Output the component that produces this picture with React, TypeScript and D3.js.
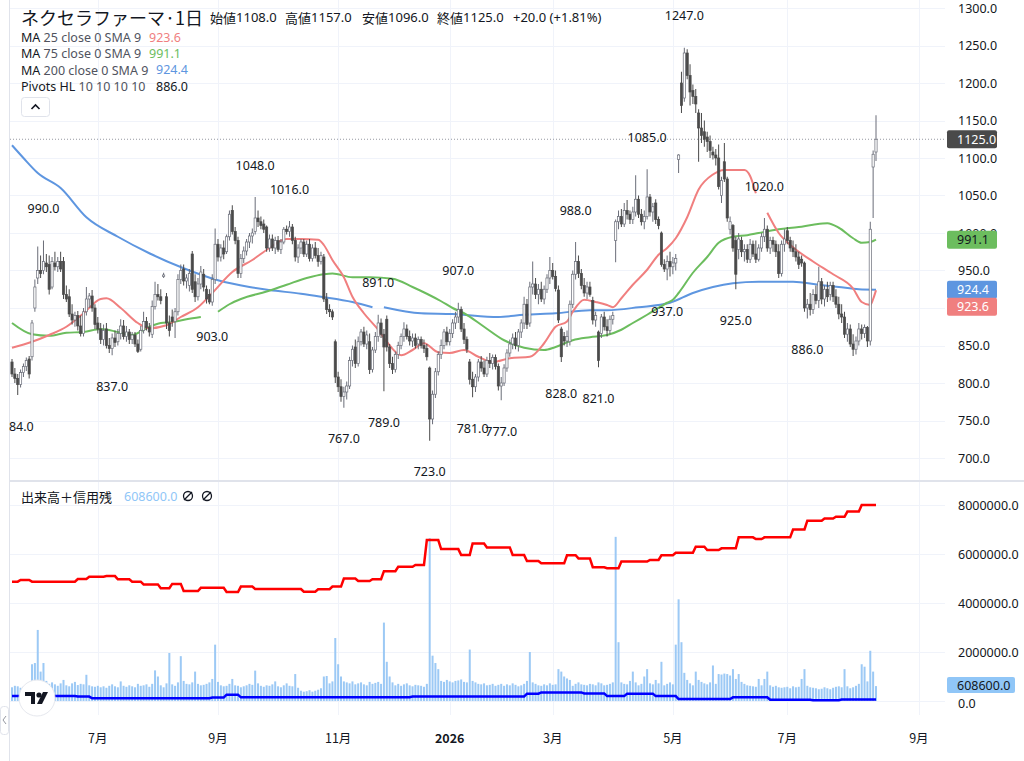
import * as d3 from 'd3'
import { useEffect, useRef } from 'react'

const W = 1024
const H = 761
const FONT = "'Noto Sans', 'Noto Sans CJK JP', sans-serif"
const CJK = "'Noto Sans CJK JP', 'Noto Sans', sans-serif"

// daily candles [open, high, low, close]
const ohlc = [
  [828, 832, 808, 812], [812, 820, 800, 806], [806, 812, 784, 798], [798, 818, 794, 814], [814, 826, 808, 822],
  [822, 834, 816, 830], [832, 836, 806, 812], [835, 884, 830, 880], [900, 938, 895, 928], [940, 982, 932, 950],
  [950, 970, 940, 946], [950, 990, 945, 962], [960, 972, 948, 955], [958, 970, 918, 925], [928, 968, 925, 962],
  [960, 975, 950, 955], [955, 968, 948, 962], [962, 975, 948, 952], [962, 968, 912, 918], [918, 930, 908, 912],
  [915, 925, 888, 892], [892, 905, 878, 884], [884, 895, 875, 890], [890, 896, 870, 876], [876, 890, 862, 866],
  [866, 900, 862, 895], [895, 928, 890, 912], [912, 920, 900, 916], [916, 924, 895, 900], [900, 905, 872, 878],
  [880, 888, 866, 872], [872, 880, 852, 858], [858, 878, 850, 870], [872, 880, 846, 850], [850, 860, 840, 846],
  [846, 866, 837, 860], [860, 870, 848, 854], [855, 872, 850, 866], [866, 885, 858, 876], [876, 884, 858, 862],
  [862, 876, 855, 868], [868, 872, 852, 858], [858, 868, 852, 864], [864, 868, 848, 852], [852, 858, 840, 842],
  [845, 876, 842, 870], [870, 895, 866, 882], [882, 888, 870, 874], [874, 880, 862, 868], [865, 910, 860, 902],
  [902, 935, 898, 918], [918, 932, 910, 915], [915, 925, 905, 910], [942, 947, 940, 944], [915, 920, 872, 880],
  [880, 890, 862, 870], [888, 898, 875, 882], [882, 900, 860, 895], [895, 945, 890, 938], [938, 958, 932, 950],
  [952, 958, 930, 936], [936, 945, 926, 940], [930, 952, 922, 946], [972, 976, 920, 925], [935, 945, 908, 915],
  [915, 940, 910, 932], [932, 956, 925, 948], [945, 952, 922, 928], [925, 930, 906, 912], [918, 925, 905, 908],
  [908, 945, 903, 938], [938, 1006, 932, 985], [985, 992, 962, 968], [968, 985, 962, 980], [980, 990, 965, 972],
  [975, 998, 972, 995], [995, 1030, 990, 1025], [1030, 1037, 998, 1002], [1002, 1008, 985, 990], [990, 995, 940, 946],
  [946, 972, 940, 966], [966, 982, 960, 976], [976, 992, 970, 988], [988, 1000, 980, 996], [996, 1006, 986, 1000],
  [1002, 1048, 998, 1020], [1020, 1030, 1008, 1015], [1015, 1022, 1005, 1010], [1012, 1018, 1000, 1005], [1008, 1010, 975, 980],
  [980, 998, 975, 992], [992, 998, 976, 980], [980, 995, 972, 990], [990, 996, 975, 978], [978, 992, 972, 988],
  [988, 1008, 985, 1005], [1005, 1010, 998, 1002], [1002, 1016, 995, 1008], [1008, 1012, 985, 990], [990, 995, 962, 968],
  [968, 985, 960, 980], [980, 992, 972, 988], [988, 992, 968, 972], [972, 990, 968, 985], [985, 992, 962, 966],
  [966, 985, 962, 980], [980, 988, 966, 970], [970, 980, 955, 962], [962, 975, 958, 970], [968, 972, 908, 912],
  [912, 920, 892, 898], [898, 905, 888, 895], [895, 898, 884, 888], [855, 858, 800, 808], [808, 815, 788, 795],
  [795, 805, 775, 782], [782, 795, 767, 788], [788, 802, 778, 796], [796, 835, 792, 830], [830, 850, 822, 845],
  [848, 858, 820, 826], [826, 862, 822, 855], [855, 872, 850, 868], [868, 875, 848, 852], [852, 870, 845, 864],
  [855, 866, 812, 818], [818, 848, 814, 844], [844, 868, 840, 862], [862, 891, 855, 880], [880, 886, 860, 865],
  [865, 872, 789, 848], [885, 890, 842, 848], [848, 852, 820, 826], [826, 835, 812, 818], [818, 842, 814, 838],
  [838, 855, 832, 850], [850, 866, 845, 862], [862, 881, 855, 872], [872, 878, 858, 862], [862, 870, 850, 856],
  [856, 866, 848, 860], [860, 866, 846, 850], [852, 862, 845, 858], [858, 862, 846, 850], [850, 858, 840, 846],
  [846, 852, 830, 835], [820, 822, 723, 752], [752, 790, 745, 785], [785, 820, 780, 815], [815, 842, 810, 838],
  [838, 858, 832, 850], [850, 872, 845, 868], [868, 875, 850, 855], [855, 872, 850, 866], [866, 885, 860, 880],
  [880, 895, 872, 888], [888, 907, 880, 898], [898, 902, 868, 872], [872, 880, 852, 858], [858, 862, 840, 845],
  [828, 832, 798, 805], [805, 815, 781, 795], [795, 812, 788, 808], [808, 832, 802, 828], [828, 836, 815, 820],
  [820, 830, 808, 812], [812, 835, 808, 830], [830, 840, 820, 826], [826, 838, 818, 834], [834, 838, 818, 822],
  [822, 826, 790, 796], [796, 808, 777, 800], [800, 825, 796, 820], [820, 845, 815, 840], [840, 858, 835, 852],
  [852, 866, 845, 860], [860, 868, 845, 850], [850, 872, 842, 868], [868, 885, 860, 880], [880, 915, 872, 905],
  [905, 912, 872, 878], [880, 935, 875, 928], [928, 962, 918, 932], [932, 940, 912, 918], [918, 932, 905, 925],
  [925, 935, 908, 912], [912, 930, 905, 925], [925, 945, 920, 940], [940, 968, 932, 950], [950, 960, 938, 942],
  [942, 950, 922, 926], [924, 930, 880, 884], [872, 875, 828, 835], [862, 868, 850, 856], [856, 870, 848, 862],
  [855, 910, 850, 905], [905, 950, 900, 945], [945, 988, 938, 962], [962, 970, 940, 946], [946, 952, 925, 930],
  [930, 940, 915, 920], [920, 935, 912, 928], [928, 935, 915, 918], [910, 915, 878, 884], [884, 895, 875, 890],
  [868, 870, 821, 830], [866, 892, 860, 888], [888, 895, 870, 875], [875, 885, 862, 870], [870, 890, 865, 885],
  [885, 895, 878, 890], [990, 1018, 961, 1015], [1015, 1030, 1005, 1022], [1022, 1032, 1008, 1012], [1012, 1040, 1008, 1030],
  [1030, 1044, 1018, 1025], [1025, 1030, 1012, 1018], [1018, 1035, 1012, 1028], [1028, 1077, 1022, 1045], [1045, 1050, 1020, 1025],
  [1025, 1032, 1010, 1015], [1015, 1030, 1005, 1022], [1022, 1085, 1018, 1048], [1048, 1052, 1022, 1028], [1028, 1040, 1015, 1035],
  [1040, 1045, 1012, 1018], [1018, 1022, 1005, 1010], [1000, 1002, 955, 958], [958, 965, 948, 952], [952, 970, 937, 962],
  [962, 975, 942, 955], [955, 968, 945, 960], [960, 972, 950, 966], [1098, 1105, 1080, 1104], [1200, 1215, 1160, 1170],
  [1180, 1247, 1175, 1240], [1240, 1245, 1205, 1210], [1210, 1225, 1170, 1188], [1190, 1198, 1172, 1182], [1182, 1192, 1160, 1172],
  [1160, 1165, 1095, 1140], [1140, 1160, 1120, 1130], [1135, 1150, 1115, 1125], [1128, 1135, 1108, 1122], [1122, 1130, 1100, 1110],
  [1108, 1115, 1098, 1104], [1104, 1112, 1090, 1100], [1100, 1118, 1058, 1062], [1050, 1075, 1040, 1070], [1095, 1120, 1068, 1072],
  [1072, 1075, 1015, 1020], [1005, 1022, 998, 1015], [1010, 1012, 975, 980], [990, 995, 925, 945], [978, 1000, 965, 992],
  [990, 995, 968, 975], [975, 985, 962, 978], [978, 985, 960, 965], [965, 992, 960, 985], [985, 990, 968, 972],
  [972, 990, 960, 965], [965, 985, 962, 980], [980, 1000, 975, 995], [995, 1020, 988, 1005], [1005, 1010, 975, 980],
  [980, 995, 972, 990], [990, 995, 975, 985], [985, 990, 968, 975], [975, 985, 940, 946], [946, 990, 942, 985],
  [985, 1005, 975, 992], [1003, 1008, 985, 990], [990, 995, 975, 980], [980, 990, 968, 975], [975, 985, 962, 968],
  [968, 975, 952, 958], [965, 970, 955, 960], [960, 962, 895, 900], [900, 912, 886, 905], [905, 920, 890, 898],
  [898, 925, 892, 918], [918, 930, 905, 910], [910, 955, 900, 935], [935, 940, 905, 912], [912, 930, 902, 925],
  [925, 935, 908, 915], [918, 935, 910, 930], [930, 935, 908, 915], [915, 925, 900, 905], [905, 915, 885, 892],
  [892, 905, 880, 888], [888, 895, 860, 865], [865, 880, 855, 872], [872, 878, 848, 852], [852, 865, 836, 845],
  [845, 862, 838, 856], [856, 880, 850, 872], [872, 878, 858, 866], [866, 878, 860, 874], [874, 876, 848, 856],
  [856, 1015, 850, 1005], [1088, 1110, 1020, 1105], [1108, 1157, 1096, 1125],
]

// daily volume, thousands of shares
const volumes = [
  560, 620, 600, 540, 580, 520, 640, 1500, 1550, 2900,
  1200, 1550, 820, 700, 760, 680, 620, 720, 860, 640,
  600, 720, 780, 650, 700, 680, 1070, 640, 600, 580,
  620, 560, 600, 540, 620, 680, 600, 560, 800, 620,
  580, 640, 600, 560, 700, 620, 640, 680, 580, 700,
  1250, 1000, 640, 560, 720, 1960, 680, 620, 760, 1830,
  820, 700, 680, 760, 1200, 700, 640, 660, 700, 760,
  900, 2300, 780, 640, 600, 620, 700, 900, 640, 620,
  560, 600, 640, 700, 660, 1240, 720, 620, 580, 640,
  620, 680, 800, 600, 560, 640, 720, 620, 600, 1100,
  540, 420, 380, 400, 440, 380, 420, 460, 520, 1000,
  1020, 720, 800, 2570, 1500, 1000, 800, 760, 720, 800,
  680, 720, 760, 680, 640, 780, 700, 740, 780, 700,
  3200, 1600, 1000, 760, 640, 700, 620, 680, 720, 640,
  600, 660, 640, 620, 580, 700, 6650, 1850, 1550, 1300,
  820, 780, 860, 800, 760, 820, 840, 880, 780, 760,
  2100, 820, 760, 700, 680, 720, 640, 660, 700, 620,
  660, 700, 620, 680, 640, 720, 660, 600, 640, 700,
  820, 2000, 760, 700, 640, 620, 680, 640, 720, 660,
  680, 1300, 1200, 1000, 920, 860, 620, 700, 760, 680,
  660, 640, 700, 680, 640, 760, 720, 640, 660, 700,
  760, 6700, 2400, 760, 700, 680, 820, 1200, 760, 640,
  700, 1000, 1300, 720, 680, 860, 720, 1600, 640, 700,
  760, 680, 2300, 4150, 2400, 1150, 860, 720, 640, 1200,
  860, 780, 720, 680, 760, 1450, 700, 1100, 1080, 1120,
  1100, 1040, 1300, 900, 1100, 780, 700, 640, 620, 600,
  580, 900, 640, 900, 1200, 640, 580, 620, 560, 540,
  560, 580, 520, 600, 560, 580, 900, 1300, 620, 560,
  540, 520, 480, 500, 560, 520, 480, 540, 580, 600,
  560, 1300, 600, 520, 560, 620, 700, 1500, 1400, 800,
  2050, 1200, 608.6,
]

// moving averages: [bar index, value]; null marks a gap
const ma25 = [
  [0, 847], [7, 855], [13, 864], [19, 875], [25, 893], [31, 912], [33, 913], [38, 900], [44, 880], [48, 873],
  [54, 877], [59, 888], [65, 901], [70, 920], [77, 948], [84, 964], [90, 980], [96, 992], [101, 992], [107, 991],
  [109, 984], [112, 964], [116, 941], [119, 915], [123, 893], [128, 871], [131, 855], [136, 837], [140, 844], [144, 853],
  [149, 841], [153, 840], [158, 844], [163, 835], [168, 828], [174, 833], [181, 835], [186, 853], [190, 875], [194, 882],
  [196, 895], [200, 911], [204, 908], [208, 904], [210, 901], [213, 913], [217, 931], [222, 951], [226, 971], [229, 980],
  [232, 993], [236, 1021], [240, 1058], [245, 1078], [249, 1084], [256, 1084], [258, 1076], [260, 1053], [262, null],
  [264, 1027], [268, 1000], [273, 981], [280, 962], [287, 945], [294, 926], [297, 908], [300, 904], [301, 912], [302, 923.6],
]
const ma75 = [
  [0, 880], [7, 865], [13, 863], [19, 867], [25, 868], [31, 872], [37, 868], [42, 864], [47, 873], [52, 880],
  [56, 881], [61, 885], [66, 888], [69, null], [72, 895], [76, 905], [80, 912], [89, 922], [96, 931], [103, 940],
  [109, 945], [112, 946], [119, 941], [125, 941], [133, 939], [140, 928], [145, 919], [150, 909], [154, 900], [158, 893],
  [165, 875], [172, 857], [179, 847], [186, 844], [190, 848], [196, 857], [202, 861], [208, 864], [213, 871], [217, 880],
  [222, 891], [229, 907], [231, 911], [233, 920], [238, 947], [243, 968], [247, 987], [252, 995], [257, 997], [261, 1000],
  [268, 1005], [275, 1008], [280, 1011], [285, 1013], [289, 1007], [294, 993], [297, 987], [300, 988], [302, 991.1],
]
const ma200 = [
  [0, 1117], [4, 1100], [9, 1080], [17, 1060], [26, 1021], [37, 995], [48, 973], [60, 953], [72, 937], [83, 928],
  [90, 924], [101, 919], [108, 915], [119, 908], [126, 901], [128, null], [130, 901], [143, 893], [154, 892], [170, 888],
  [179, 891], [190, 893], [202, 897], [208, 897], [219, 901], [230, 907], [238, 920], [245, 928], [252, 933], [261, 935],
  [273, 935], [282, 931], [289, 928], [296, 925], [302, 924.4],
]

// credit balances (thousands), weekly steps: [first bar index, value]
const marginBuy = [
  [0, 4870], [3, 4940], [7, 4870], [23, 4980], [27, 5070], [33, 5100], [37, 4970], [42, 4870], [46, 4760], [52, 4600],
  [56, 4780], [60, 4490], [66, 4620], [75, 4450], [80, 4670], [85, 4570], [102, 4460], [107, 4560], [112, 4670], [116, 5000],
  [121, 4900], [126, 4970], [130, 5300], [135, 5480], [141, 5550], [145, 6570], [150, 6200], [157, 5960], [161, 6430], [166, 6270],
  [175, 5960], [180, 5710], [185, 5620], [194, 5950], [198, 5820], [203, 5460], [208, 5420], [213, 5690], [223, 5760], [227, 5950],
  [232, 6050], [239, 6300], [243, 6160], [248, 6230], [254, 6680], [260, 6610], [263, 6680], [273, 7000], [278, 7360], [284, 7450],
  [288, 7520], [292, 7730], [297, 8000], [302, 8000],
]
const marginSell = [
  [0, 200], [23, 180], [28, 110], [70, 140], [75, 260], [80, 150], [140, 180], [180, 300], [185, 350], [200, 310],
  [208, 200], [215, 300], [225, 200], [233, 80], [252, 150], [265, 50], [280, 30], [290, 60], [302, 60],
]

// pivot highs / lows: [bar index, 'H' | 'L']
const pivots = [
  [2, 'L'], [11, 'H'], [35, 'L'], [70, 'L'], [85, 'H'], [97, 'H'], [116, 'L'], [128, 'H'], [130, 'L'], [146, 'L'],
  [156, 'H'], [161, 'L'], [171, 'L'], [192, 'L'], [197, 'H'], [205, 'L'], [222, 'H'], [229, 'L'], [235, 'H'], [253, 'L'],
  [263, 'H'], [278, 'L'],
]

const priceTicks = [700, 750, 800, 850, 900, 950, 1000, 1050, 1100, 1150, 1200, 1250, 1300]
const volTicks = [0, 2000, 4000, 6000, 8000]
const monthIdx = [30, 72, 114, 153, 189, 231, 271, 317]
const monthLabels = ['7月', '9月', '11月', '2026', '3月', '5月', '7月', '9月']

const RED = '#f07f7f'
const GREEN = '#6cbd5e'
const BLUE = '#5e96e0'

function stepPoints(steps) {
  const pts = []
  steps.forEach(([i, v], k) => {
    if (k > 0) pts.push([i - 1, steps[k - 1][1]])
    pts.push([i, v])
  })
  return pts
}

export default function App() {
  const ref = useRef(null)

  useEffect(() => {
    const svg = d3.select(ref.current)
    svg.selectAll('*').remove()

    const n = ohlc.length
    const x = d3.scaleLinear().domain([0, n - 1]).range([12, 876])
    const y = d3.scaleLinear().domain([700, 1300]).range([458, 8])
    const yv = d3.scaleLinear().domain([0, 8000]).range([701, 505])

    const defs = svg.append('defs')
    defs.append('clipPath').attr('id', 'cp-main').append('rect').attr('x', 9).attr('y', 0).attr('width', 936).attr('height', 480)
    defs.append('clipPath').attr('id', 'cp-vol').append('rect').attr('x', 9).attr('y', 482).attr('width', 936).attr('height', 233)

    svg.append('rect').attr('width', W).attr('height', H).attr('fill', '#fff')

    // grid
    const grid = svg.append('g').attr('stroke', '#f0f3fa').attr('stroke-width', 1)
    grid.selectAll('.hg').data(priceTicks).enter().append('line')
      .attr('x1', 10).attr('x2', 945).attr('y1', (d) => Math.round(y(d)) + 0.5).attr('y2', (d) => Math.round(y(d)) + 0.5)
    grid.selectAll('.vg').data(volTicks).enter().append('line')
      .attr('x1', 10).attr('x2', 945).attr('y1', (d) => Math.round(yv(d)) + 0.5).attr('y2', (d) => Math.round(yv(d)) + 0.5)
    grid.selectAll('.mg').data(monthIdx).enter().append('line')
      .attr('x1', (d) => Math.round(x(d)) + 0.5).attr('x2', (d) => Math.round(x(d)) + 0.5).attr('y1', 0).attr('y2', 715)

    // borders
    svg.append('line').attr('x1', 9.5).attr('x2', 9.5).attr('y1', 0).attr('y2', H).attr('stroke', '#e0e3eb')
    svg.append('line').attr('x1', 10).attr('x2', W).attr('y1', 481).attr('y2', 481).attr('stroke', '#e0e3eb').attr('stroke-width', 2)

    // ----- main pane -----
    const main = svg.append('g').attr('clip-path', 'url(#cp-main)')

    // last price dotted line
    main.append('line').attr('x1', 10).attr('x2', 945).attr('y1', y(1125)).attr('y2', y(1125))
      .attr('stroke', '#9598a1').attr('stroke-dasharray', '1 2')

    const maLine = d3.line().defined((d) => d[1] != null).x((d) => x(d[0])).y((d) => y(d[1])).curve(d3.curveMonotoneX)
    ;[[ma200, BLUE], [ma75, GREEN], [ma25, RED]].forEach(([data, color]) => {
      main.append('path').attr('d', maLine(data)).attr('fill', 'none').attr('stroke', color).attr('stroke-width', 2)
    })

    const candles = main.selectAll('.c').data(ohlc).enter().append('g')
    candles.append('line')
      .attr('x1', (d, i) => x(i)).attr('x2', (d, i) => x(i))
      .attr('y1', (d) => y(d[1])).attr('y2', (d) => y(d[2]))
      .attr('stroke', (d) => (d[3] >= d[0] ? '#6a6d78' : '#4a4a4a')).attr('stroke-width', 1)
    candles.append('rect')
      .attr('x', (d, i) => x(i) - 1.1).attr('width', 2.2)
      .attr('y', (d) => y(Math.max(d[0], d[3])))
      .attr('height', (d) => Math.max(0.8, Math.abs(y(d[0]) - y(d[3]))))
      .attr('fill', (d) => (d[3] >= d[0] ? '#ffffff' : '#4a4a4a'))
      .attr('stroke', (d) => (d[3] >= d[0] ? '#6a6d78' : '#4a4a4a')).attr('stroke-width', 0.7)

    // pivot labels
    main.selectAll('.pv').data(pivots).enter().append('text')
      .attr('x', (d) => x(d[0]))
      .attr('y', (d) => (d[1] === 'H' ? y(ohlc[d[0]][1]) - 32 : y(ohlc[d[0]][2]) + 31))
      .attr('text-anchor', 'middle').attr('dominant-baseline', 'central')
      .attr('font-family', FONT).attr('font-size', 12.5).attr('fill', '#131722')
      .text((d) => (d[1] === 'H' ? ohlc[d[0]][1] : ohlc[d[0]][2]).toFixed(1))

    // ----- volume pane -----
    const vol = svg.append('g').attr('clip-path', 'url(#cp-vol)')
    vol.selectAll('.vb').data(volumes).enter().append('rect')
      .attr('x', (d, i) => x(i) - 1).attr('width', 2)
      .attr('y', (d) => yv(d)).attr('height', (d) => yv(0) - yv(d))
      .attr('fill', '#9cc9f5')
    const stepLine = d3.line().x((d) => x(d[0])).y((d) => yv(d[1]))
    vol.append('path').attr('d', stepLine(stepPoints(marginBuy))).attr('fill', 'none').attr('stroke', '#ff0000').attr('stroke-width', 2.5)
    vol.append('path').attr('d', stepLine(stepPoints(marginSell))).attr('fill', 'none').attr('stroke', '#0000ff').attr('stroke-width', 2.5)

    // ----- right axes -----
    const axisText = svg.append('g').attr('font-family', FONT).attr('font-size', 12.5).attr('fill', '#131722')
    axisText.selectAll('.pt').data(priceTicks).enter().append('text')
      .attr('x', 958).attr('y', (d) => y(d)).attr('dominant-baseline', 'central').text((d) => d.toFixed(1))
    axisText.selectAll('.vt').data(volTicks).enter().append('text')
      .attr('x', 958).attr('y', (d) => yv(d) + (d === 0 ? 2 : 0)).attr('dominant-baseline', 'central').text((d) => (d * 1000).toFixed(1))

    const tag = (yy, value, bg, fg, w = 50, h = 18) => {
      const g = svg.append('g')
      g.append('rect').attr('x', 947).attr('y', yy - h / 2).attr('width', w).attr('height', h).attr('rx', 2).attr('fill', bg)
      g.append('text').attr('x', 957).attr('y', yy).attr('dominant-baseline', 'central')
        .attr('font-family', FONT).attr('font-size', 12.5).attr('fill', fg).text(value)
    }
    const last = ohlc[n - 1]
    tag(y(last[3]), last[3].toFixed(1), '#4a4a4a', '#ffffff')
    const g75 = ma75[ma75.length - 1][1]
    const b200 = ma200[ma200.length - 1][1]
    const r25 = ma25[ma25.length - 1][1]
    tag(y(g75), g75.toFixed(1), GREEN, '#131722')
    tag(y(b200), b200.toFixed(1), BLUE, '#ffffff')
    tag(y(b200) + 17, r25.toFixed(1), RED, '#ffffff')
    const lastVol = volumes[volumes.length - 1]
    tag(yv(lastVol) - 1, (lastVol * 1000).toFixed(1), '#90c6f7', '#131722', 68, 16)

    // ----- time axis -----
    svg.selectAll('.ml').data(monthLabels).enter().append('text')
      .attr('x', (d, i) => x(monthIdx[i])).attr('y', 737)
      .attr('text-anchor', 'middle').attr('dominant-baseline', 'central')
      .attr('font-family', CJK).attr('font-size', 12.5).attr('fill', '#131722')
      .attr('font-weight', (d) => (d === '2026' ? 700 : 400))
      .text((d) => d)

    // ----- legends -----
    svg.append('text').attr('x', 21).attr('y', 17).attr('dominant-baseline', 'central')
      .attr('font-family', CJK).attr('font-size', 18).attr('fill', '#131722').text('ネクセラファーマ·1日')
    const hdr = [
      [210, '始値', '1108.0'], [285, '高値', '1157.0'], [362, '安値', '1096.0'], [437, '終値', '1125.0'],
    ]
    hdr.forEach(([xx, k, v]) => {
      const t = svg.append('text').attr('x', xx).attr('y', 17).attr('dominant-baseline', 'central')
        .attr('font-family', CJK).attr('font-size', 13).attr('fill', '#131722')
      t.append('tspan').text(k)
      t.append('tspan').attr('font-family', FONT).text(v)
    })
    svg.append('text').attr('x', 513).attr('y', 17).attr('dominant-baseline', 'central')
      .attr('font-family', FONT).attr('font-size', 13).attr('fill', '#131722').text('+20.0 (+1.81%)')

    const legend = [
      ['MA', ' 25 close 0 SMA 9', r25.toFixed(1), RED, 149],
      ['MA', ' 75 close 0 SMA 9', g75.toFixed(1), GREEN, 149],
      ['MA', ' 200 close 0 SMA 9', b200.toFixed(1), BLUE, 156],
      ['Pivots HL', ' 10 10 10 10', '886.0', '#131722', 156],
    ]
    legend.forEach(([a, b, v, c, vx], k) => {
      const yy = 37 + k * 16.4
      const t = svg.append('text').attr('x', 21).attr('y', yy).attr('dominant-baseline', 'central')
        .attr('font-family', FONT).attr('font-size', 12.5)
      t.append('tspan').attr('fill', '#131722').text(a)
      t.append('tspan').attr('fill', '#50535e').text(b)
      svg.append('text').attr('x', vx).attr('y', yy).attr('dominant-baseline', 'central')
        .attr('font-family', FONT).attr('font-size', 12.5).attr('fill', c).text(v)
    })
    svg.append('rect').attr('x', 21.5).attr('y', 97.5).attr('width', 28).attr('height', 19).attr('rx', 3)
      .attr('fill', '#fff').attr('stroke', '#e0e3eb')
    svg.append('path').attr('d', 'M31.5 109 L35.5 105 L39.5 109').attr('fill', 'none').attr('stroke', '#131722').attr('stroke-width', 1.6)

    svg.append('text').attr('x', 21).attr('y', 496).attr('dominant-baseline', 'central')
      .attr('font-family', CJK).attr('font-size', 13).attr('fill', '#131722').text('出来高＋信用残')
    svg.append('text').attr('x', 124).attr('y', 496).attr('dominant-baseline', 'central')
      .attr('font-family', FONT).attr('font-size', 12.5).attr('fill', '#90c6f7').text((lastVol * 1000).toFixed(1))
    ;[188, 207].forEach((cx) => {
      svg.append('circle').attr('cx', cx).attr('cy', 496).attr('r', 4.5).attr('fill', 'none').attr('stroke', '#131722').attr('stroke-width', 1.3)
      svg.append('line').attr('x1', cx - 4).attr('x2', cx + 4).attr('y1', 500).attr('y2', 492).attr('stroke', '#131722').attr('stroke-width', 1.3)
    })

    // logo
    const logo = svg.append('g').attr('transform', 'translate(37,698)')
    logo.append('circle').attr('r', 18).attr('fill', '#fff').attr('stroke', '#e6e8ee')
    logo.append('path').attr('d', 'M-12 -6 H-2 V6 H-6 V-2 H-12 Z').attr('fill', '#131722')
    logo.append('circle').attr('cx', 2).attr('cy', -3).attr('r', 2.6).attr('fill', '#131722')
    logo.append('path').attr('d', 'M6 -6 H11 L5 6 H0 Z').attr('fill', '#131722')

    // collapse tab on left edge
    svg.append('rect').attr('x', 0.5).attr('y', 706.5).attr('width', 8).attr('height', 28).attr('rx', 3)
      .attr('fill', '#fff').attr('stroke', '#e0e3eb')
    svg.append('path').attr('d', 'M6 716 L3 720 L6 724').attr('fill', 'none').attr('stroke', '#9598a1')
  }, [])

  return <svg ref={ref} width={W} height={H} style={{ position: 'absolute', left: 0, top: 0 }} />
}
